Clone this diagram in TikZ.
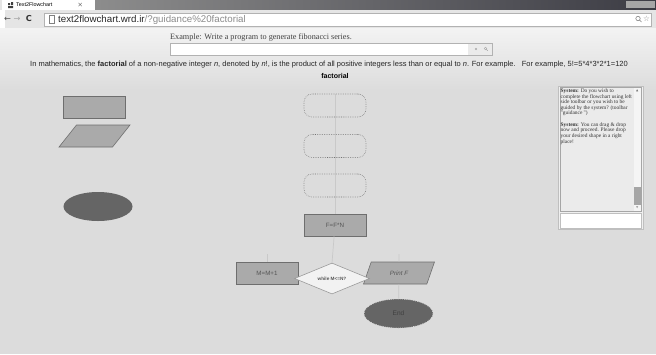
\documentclass[tikz,border=0pt]{standalone}
\usepackage{fontspec}
\setmainfont{Liberation Sans}
\newfontfamily\seriffont{Liberation Serif}
\newfontfamily\symfont{DejaVu Sans}
\usetikzlibrary{shapes.geometric}
\definecolor{pagebg}{HTML}{DCDCDC}
\definecolor{toppage}{HTML}{F3F3F3}
\definecolor{shapefill}{HTML}{AAAAAA}
\definecolor{shapeline}{HTML}{6E6E6E}
\definecolor{termfill}{HTML}{656565}
\definecolor{linkgray}{HTML}{C9C9C9}
\definecolor{labelgray}{HTML}{555555}
\definecolor{chromedark}{HTML}{3C3C44}
\tikzstyle{proc} = [draw=shapeline, fill=shapefill, line width=0.5pt, minimum width=1.86cm, minimum height=0.66cm, inner sep=0pt, text=labelgray, font=\fontsize{5.3}{5.3}\selectfont]
\tikzstyle{io} = [trapezium, trapezium left angle=65, trapezium right angle=115, trapezium stretches=true, draw=shapeline, fill=shapefill, line width=0.5pt, minimum width=2.13cm, minimum height=0.66cm, inner sep=0.5pt, text=labelgray, font=\fontsize{5.3}{5.3}\selectfont\itshape]
\tikzstyle{term} = [ellipse, fill=termfill, minimum width=2.07cm, minimum height=0.87cm, inner sep=0pt, text=black!75, font=\fontsize{5.6}{5.6}\selectfont]
\tikzstyle{slot} = [draw=black!55, densely dotted, line width=0.5pt, rounded corners=0.24cm, minimum width=1.86cm, minimum height=0.69cm, inner sep=0pt]
\tikzstyle{cond} = [diamond, aspect=2.4, draw=black!40, fill=black!5, line width=0.5pt, minimum width=2.25cm, minimum height=0.93cm, inner sep=0pt, text=labelgray, font=\fontsize{4}{4}\selectfont\bfseries]
\tikzstyle{link} = [draw=linkgray, line width=0.6pt]
\tikzstyle{plain} = [inner sep=0pt, anchor=west]

\begin{document}
\begin{tikzpicture}[x=0.03cm, y=-0.03cm]
  \useasboundingbox (0,0) rectangle (656,354);
  % browser chrome
  \fill[white] (0,0) rectangle (656,28);
  \shade[left color=black!45, right color=chromedark] (95,0) rectangle (656,10);
  \fill[black!10] (0,0) -- (2,0) -- (2,10) -- (0,10) -- cycle;
  \fill[white] (3,0) rectangle (92,10);
  \fill[black!75] (8,3) rectangle (10,5) (11,2) rectangle (13,5) (8,6) rectangle (13,8);
  \node[plain] (tab) at (16,5) {\fontsize{4.6}{4.6}\selectfont Text2Flowchart};
  \node[plain] (tabx) at (77,5) {\fontsize{4.5}{4.5}\selectfont $\times$};
  \fill[black!35] (626,1) rectangle (655,8);
  \fill[white!90!black] (5,10) rectangle (656,28);
  \node[plain] (nav) at (4,19) {\symfont\fontsize{7}{7}\selectfont\color{black!70}← \color{black!35}→\ \ \color{black!80}\bfseries C};
  \draw[black!30, fill=white] (44,13) rectangle (651,26);
  \draw[black!50] (49,15.5) rectangle (54,23.5);
  \node[plain] (url) at (58,19.5) {\fontsize{8.3}{8.3}\selectfont\color{black!85}text2flowchart.wrd.ir\color{black!45}/?guidance\%20factorial};
  \draw[black!50, line width=0.5pt] (638,18.5) circle (2.2) (639.6,20.1) -- (641.5,22);
  \node[plain] (star) at (643,19) {\symfont\fontsize{6.5}{6.5}\selectfont\color{black!45}☆};
  % page
  \shade[top color=toppage, bottom color=pagebg] (0,28) rectangle (656,90);
  \fill[pagebg] (0,90) rectangle (656,354);
  \node[plain] (example) at (170,38.5) {\seriffont\fontsize{7}{7}\selectfont\color{black!75}Example: \underline{Write a program to generate fibonacci series.}};
  \draw[black!30, fill=white] (170,43) rectangle (492,55);
  \fill[black!8] (468,43.5) rectangle (491.5,54.5);
  \fill[black!35] (476,49) circle (1.1);
  \draw[black!35, line width=0.4pt] (485.5,48.5) circle (1.4) (486.5,49.5) -- (487.8,50.8);
  \node[plain] (desc) at (30,64.5) {\fontsize{6.4}{6.4}\selectfont\color{black!85}In mathematics, the \textbf{factorial} of a non-negative integer \textit{n}, denoted by \textit{n}!, is the product of all positive integers less than or equal to \textit{n}. For example.\ \ \ For example, 5!=5*4*3*2*1=120};
  \node[inner sep=0pt] (title) at (335,75.5) {\fontsize{6}{6}\selectfont\bfseries factorial};
  % left toolbar
  \node[proc] (tool1) at (94,107.5) {};
  \node[io] (tool2) at (94.5,136) {\phantom{x}};
  \node[term] (tool3) at (98,206.5) {};
  % flowchart
  \draw[link] (335,94) -- (335,214);
  \node[slot] (s1) at (335,105.5) {};
  \node[slot] (s2) at (335,146) {};
  \node[slot] (s3) at (335,185.5) {};
  \node[proc] (fn) at (335,225) {F=F*N};
  \coordinate (mtop) at (267,254);
  \coordinate (ptop) at (399,254);
  \node[proc] (mm) at (267,273) {M=M+1};
  \node[io] (pf) at (399,273) {Print F};
  \node[term, draw=white!85!black, densely dotted, line width=0.6pt] (end) at (398.5,313.5) {End};
  \draw[link] (fn) -- (332,263);
  \draw[link] (mtop) -- (mm);
  \draw[link] (ptop) -- (pf);
  \draw[link] (pf) -- (end);
  \node[cond] (dec) at (332,278.5) {while M<=N?};
  % chat panel
  \draw[black!25, fill=black!6] (558,86) rectangle (643,229);
  \draw[black!35, fill=black!8] (560,87.5) rectangle (641,211);
  \fill[black!4] (634,88) rectangle (640.5,210.5);
  \fill[black!35] (634,187) rectangle (640.5,205);
  \node[inner sep=0pt] (up) at (637.3,91) {\symfont\fontsize{2.5}{2.5}\selectfont\color{black!60}▲};
  \node[inner sep=0pt] (down) at (637.3,208) {\symfont\fontsize{2.5}{2.5}\selectfont\color{black!40}▼};
  \node[anchor=north west, inner sep=0pt, align=left, text=black!80, font=\seriffont\fontsize{4.6}{4.8}\selectfont] (chat) at (560.5,88.5) {\textbf{System:} Do you wish to\\complete the flowchart using left\\side toolbar or you wish to be\\guided by the system? (toolbar\\"guidance ")\\[4.8pt]\textbf{System:} You can drag \& drop\\now and proceed. Please drop\\your desired shape in a right\\place!};
  \draw[black!25, fill=white] (560,213) rectangle (641,228);
\end{tikzpicture}
\end{document}
